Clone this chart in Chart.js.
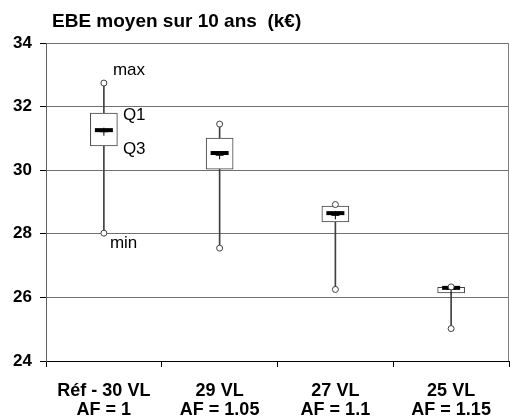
<!DOCTYPE html>
<html>
<head>
<meta charset="utf-8">
<script src="https://cdn.jsdelivr.net/npm/chart.js@4.4.1/dist/chart.umd.min.js"></script>
<style>
  html, body { margin: 0; padding: 0; background: #fff; }
  #wrap { width: 510px; height: 417px; }
</style>
</head>
<body>
<div id="wrap"><canvas id="boxChart"></canvas></div>
<script>
// categories (two-line axis labels)
const groupNames = ["Réf - 30 VL", "29 VL", "27 VL", "25 VL"];
const afLabels = ["AF = 1", "AF = 1.05", "AF = 1.1", "AF = 1.15"];

// box plot values, k€
const minValues = [28.02, 27.55, 26.25, 25.02];
const q3Values = [30.76, 30.03, 28.37, 26.14];
const medianValues = [31.26, 30.54, 28.65, 26.30];
const meanValues = [31.21, 30.47, 28.58, 26.25];
const q1Values = [31.80, 31.01, 28.87, 26.32];
const maxValues = [32.74, 31.45, 28.92, 26.33];

// y axis
const yMin = 24;
const yMax = 34;
const yStep = 2;

const titleText = "EBE moyen sur 10 ans  (k€)";

// text notes next to the first box
const noteTexts = ["max", "Q1", "Q3", "min"];
const noteValues = [33.15, 31.74, 30.67, 27.71];

const labels = groupNames.map((g, i) => [g, afLabels[i]]);
const fontFamily = "'Liberation Sans', Arial, sans-serif";
const lineGrey = "#404040";

// title, right frame line, notes beside the first box
const notesPlugin = {
  id: "notes",
  afterDatasetsDraw(chart) {
    const ctx = chart.ctx;
    const area = chart.chartArea;
    const x = chart.scales.x;
    const y = chart.scales.y;
    const offsets = [9, 19, 19, 6];
    ctx.save();
    ctx.strokeStyle = "#808080";
    ctx.lineWidth = 1;
    ctx.beginPath();
    ctx.moveTo(area.right - 0.5, area.top);
    ctx.lineTo(area.right - 0.5, area.bottom);
    ctx.stroke();
    ctx.fillStyle = "#000";
    ctx.textAlign = "left";
    ctx.textBaseline = "middle";
    ctx.font = "bold 19px " + fontFamily;
    ctx.fillText(titleText, area.left + 6, 22);
    ctx.font = "17px " + fontFamily;
    noteTexts.forEach((t, i) => {
      ctx.fillText(t, x.getPixelForValue(0) + offsets[i], y.getPixelForValue(noteValues[i]));
    });
    ctx.restore();
  }
};

new Chart(document.getElementById("boxChart"), {
  type: "bar",
  data: {
    labels: labels,
    datasets: [
      {
        // whisker
        type: "bar",
        data: minValues.map((v, i) => [v, maxValues[i]]),
        backgroundColor: lineGrey,
        borderWidth: 0,
        barThickness: 1,
        grouped: false,
        order: 5
      },
      {
        // box
        type: "bar",
        data: q3Values.map((v, i) => [v, q1Values[i]]),
        backgroundColor: "#ffffff",
        borderColor: lineGrey,
        borderWidth: 1,
        borderSkipped: false,
        barThickness: 27,
        grouped: false,
        order: 4
      },
      {
        // mean
        type: "line",
        data: meanValues,
        showLine: false,
        pointStyle: "cross",
        pointRadius: 4,
        borderColor: "#000",
        borderWidth: 1,
        order: 3
      },
      {
        // median
        type: "line",
        data: medianValues,
        showLine: false,
        pointStyle: "line",
        pointRadius: 9,
        borderColor: "#000",
        borderWidth: 4,
        order: 2
      },
      {
        // max
        type: "line",
        data: maxValues,
        showLine: false,
        pointStyle: "circle",
        pointRadius: 3,
        backgroundColor: "#fff",
        borderColor: lineGrey,
        borderWidth: 1,
        order: 1
      },
      {
        // min
        type: "line",
        data: minValues,
        showLine: false,
        pointStyle: "circle",
        pointRadius: 3,
        backgroundColor: "#fff",
        borderColor: lineGrey,
        borderWidth: 1,
        order: 1
      }
    ]
  },
  options: {
    responsive: true,
    maintainAspectRatio: false,
    animation: false,
    devicePixelRatio: 1,
    layout: {
      autoPadding: false,
      padding: { top: 43, left: 0, right: 1, bottom: 0 }
    },
    plugins: {
      legend: { display: false },
      tooltip: { enabled: false },
      title: { display: false }
    },
    scales: {
      x: {
        offset: true,
        afterFit(scale) {
          scale.height = 56;
          scale.paddingLeft = 0;
          scale.paddingRight = 0;
        },
        grid: {
          offset: true,
          drawOnChartArea: false,
          tickLength: 6,
          color: "#000"
        },
        border: { color: "#000", width: 1 },
        ticks: {
          color: "#000",
          padding: 15,
          maxRotation: 0,
          font: { family: fontFamily, size: 18, weight: "bold", lineHeight: 1.05 }
        }
      },
      y: {
        min: yMin,
        max: yMax,
        afterFit(scale) {
          scale.width = 46;
          scale.paddingTop = 0;
        },
        grid: {
          color: "#707070",
          tickColor: "#000",
          tickLength: 6
        },
        border: { color: "#606060", width: 1 },
        ticks: {
          stepSize: yStep,
          color: "#000",
          padding: 8,
          font: { family: fontFamily, size: 17, weight: "bold" }
        }
      }
    }
  },
  plugins: [notesPlugin]
});
</script>
</body>
</html>
